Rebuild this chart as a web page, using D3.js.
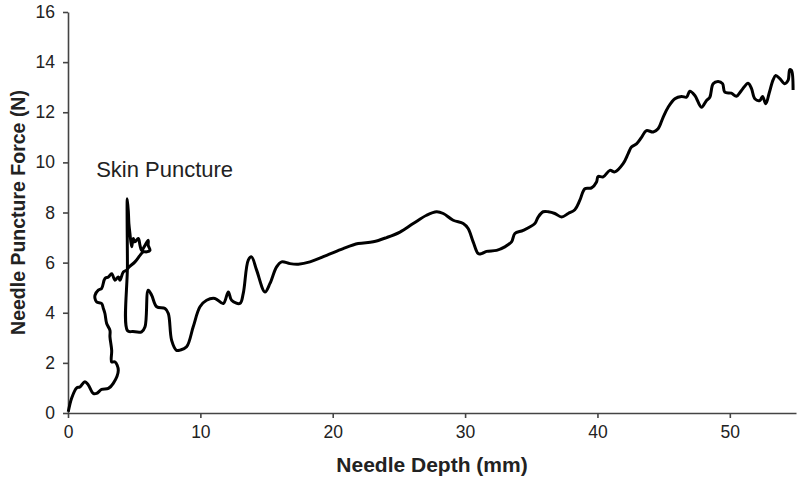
<!DOCTYPE html>
<html>
<head>
<meta charset="utf-8">
<script src="https://cdn.jsdelivr.net/npm/d3@7"></script>
<style>
  body { margin: 0; background: #fff; }
  svg text { font-family: "Liberation Sans", Arial, sans-serif; fill: #222; }
  .axis path, .axis line { stroke: #444; stroke-width: 1.6px; }
</style>
</head>
<body>
<div id="chart"></div>
<script>
// needle depth (mm) and puncture force (N) in order
var depth = [0.02, 0.28, 0.66, 0.9, 1.28, 1.53, 1.91, 2.16, 2.54, 3.05, 3.42, 3.8, 3.55, 3.3, 3.3, 3.17,
  3.17, 2.92, 2.79, 2.67, 2.54, 2.16, 2.04, 2.04, 2.29, 2.54, 2.79, 3.05, 3.3, 3.55, 3.8, 3.93, 4.18,
  4.43, 4.56, 5.06, 5.44, 5.69, 5.94, 6.19, 6.06, 6.06, 5.82, 5.56, 5.44, 5.31, 5.06, 4.93, 4.81, 4.68,
  4.6, 4.56, 4.48, 4.49, 4.5, 4.9, 5.56, 5.82, 6.06, 6.32, 6.7, 7.33, 7.58, 7.83, 8.2, 8.46, 8.96, 9.46, 9.97,
  10.47, 11.1, 11.73, 12.11, 12.36, 12.99, 13.24, 13.62, 13.87, 14.25, 14.88, 15.26, 15.76, 16.14,
  16.77, 17.4, 18.28, 19.54, 20.79, 21.93, 23.06, 24.07, 25.08, 26.08, 27.09, 27.85, 28.35, 29.1,
  29.86, 30.23, 30.61, 30.99, 31.24, 31.62, 32.38, 33.0, 33.51, 33.76, 34.39, 35.27, 35.52, 35.9,
  36.28, 36.78, 37.29, 37.79, 38.29, 38.67, 39.05, 39.55, 39.93, 40.05, 40.43, 40.94, 41.31, 41.94,
  42.32, 42.57, 42.95, 43.33, 43.7, 44.21, 44.58, 44.96, 45.34, 45.85, 46.35, 46.73, 46.98, 47.36,
  47.86, 48.24, 48.49, 48.74, 49.12, 49.45, 49.62, 50.12, 50.5, 50.88, 51.38, 51.64, 51.89, 52.27,
  52.47, 52.72, 52.97, 53.27, 53.47, 53.78, 54.15, 54.4, 54.53, 54.66, 54.78];
var force = [0.05, 0.6, 1.0, 1.04, 1.25, 1.12, 0.78, 0.78, 0.94, 0.98, 1.18, 1.71, 2.04, 2.04, 2.5, 3.04,
  3.3, 3.57, 3.97, 4.17, 4.37, 4.43, 4.57, 4.7, 4.9, 4.97, 5.37, 5.43, 5.56, 5.3, 5.43, 5.3, 5.63,
  5.7, 5.8, 6.03, 6.29, 6.43, 6.43, 6.49, 6.69, 6.89, 6.69, 6.49, 6.69, 6.96, 6.83, 6.96, 6.63, 7.16,
  7.56, 8.03, 8.55, 5.9, 3.28, 3.25, 3.24, 3.44, 4.9, 4.7, 4.24, 4.17, 3.97, 2.9, 2.5, 2.51, 2.64, 3.44, 4.24,
  4.5, 4.57, 4.37, 4.83, 4.5, 4.37, 4.77, 6.1, 6.23, 5.7, 4.83, 5.17, 5.83, 6.03,
  5.96, 5.94, 6.03, 6.29, 6.56, 6.76, 6.83, 7.0, 7.22, 7.56, 7.89, 8.03, 7.96, 7.69,
  7.56, 7.36, 6.83, 6.36, 6.36, 6.45, 6.49, 6.63, 6.83, 7.16, 7.29, 7.56, 7.82, 8.03,
  8.03, 7.96, 7.82, 7.96, 8.11, 8.49, 8.95, 8.98, 9.22, 9.44, 9.42, 9.68, 9.62, 9.95,
  10.35, 10.61, 10.74, 11.0, 11.27, 11.21, 11.34, 11.8, 12.2, 12.54, 12.63, 12.6, 12.84, 12.67,
  12.2, 12.47, 12.6, 13.14, 13.23, 13.14, 12.8, 12.76, 12.64, 12.87, 13.16, 12.94, 12.54, 12.47,
  12.63, 12.34, 12.76, 13.29, 13.47, 13.34, 13.14, 13.27, 13.7, 13.67, 12.89];

var xTicks = [0, 10, 20, 30, 40, 50];
var yTicks = [0, 2, 4, 6, 8, 10, 12, 14, 16];

var width = 800, height = 481;
var svg = d3.select('#chart').append('svg')
  .attr('width', width)
  .attr('height', height);

var x = d3.scaleLinear().domain([0, 55]).range([68, 796]);
var y = d3.scaleLinear().domain([0, 16]).range([413, 12]);

svg.append('g')
  .attr('class', 'axis')
  .attr('transform', 'translate(0,' + y(0) + ')')
  .call(d3.axisBottom(x).tickValues(xTicks).tickSize(5).tickSizeOuter(0).tickPadding(8))
  .call(function(g) { g.selectAll('text').style('font-size', '17.5px'); });

svg.append('g')
  .attr('class', 'axis')
  .attr('transform', 'translate(' + x(0) + ',0)')
  .call(d3.axisLeft(y).tickValues(yTicks).tickSize(5).tickSizeOuter(0).tickPadding(8))
  .call(function(g) { g.selectAll('text').style('font-size', '17.5px'); });

var line = d3.line()
  .x(function(d) { return x(d[0]); })
  .y(function(d) { return y(d[1]); })
  .curve(d3.curveCatmullRom.alpha(0.5));

svg.append('path')
  .datum(d3.zip(depth, force))
  .attr('fill', 'none')
  .attr('stroke', '#000')
  .attr('stroke-width', 3)
  .attr('stroke-linejoin', 'round')
  .attr('d', line);

svg.append('text')
  .attr('x', x(7.3))
  .attr('y', y(9.4))
  .attr('text-anchor', 'middle')
  .style('font-size', '22px')
  .text('Skin Puncture');

svg.append('text')
  .attr('x', x(27.5))
  .attr('y', 472)
  .attr('text-anchor', 'middle')
  .style('font-size', '21px')
  .style('font-weight', 'bold')
  .text('Needle Depth (mm)');

svg.append('text')
  .attr('transform', 'translate(25,' + y(8) + ') rotate(-90)')
  .attr('text-anchor', 'middle')
  .style('font-size', '19.5px')
  .style('font-weight', 'bold')
  .text('Needle Puncture Force (N)');
</script>
</body>
</html>
